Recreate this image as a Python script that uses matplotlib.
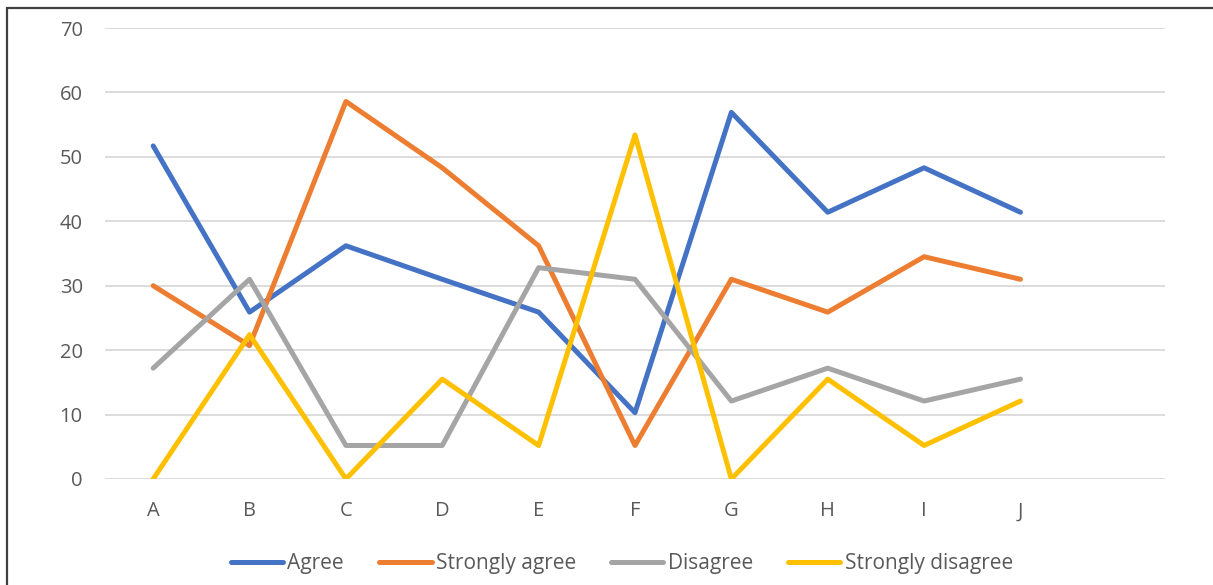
import matplotlib
matplotlib.use("Agg")
import matplotlib.pyplot as plt
from matplotlib.patches import Rectangle

categories = ["A", "B", "C", "D", "E", "F", "G", "H", "I", "J"]
agree = [51.7, 25.9, 36.2, 31.0, 25.9, 10.3, 56.9, 41.4, 48.3, 41.4]
strongly_agree = [30.0, 20.7, 58.6, 48.3, 36.2, 5.2, 31.0, 25.9, 34.5, 31.0]
disagree = [17.2, 31.0, 5.2, 5.2, 32.8, 31.0, 12.1, 17.2, 12.1, 15.5]
strongly_disagree = [0.0, 22.4, 0.0, 15.5, 5.2, 53.4, 0.0, 15.5, 5.2, 12.1]

series = [("Agree", agree, "#4472C4"),
          ("Strongly agree", strongly_agree, "#ED7D31"),
          ("Disagree", disagree, "#A5A5A5"),
          ("Strongly disagree", strongly_disagree, "#FFC000")]

plt.rcParams['font.family'] = ['Open Sans', 'DejaVu Sans']
W, H = 1213, 585
fig = plt.figure(figsize=(W/100, H/100), dpi=100)
ax = fig.add_axes([105/W, 106/H, 1060/W, 451/H])

x = list(range(len(categories)))
for name, vals, col in series:
    ax.plot(x, vals, color=col, lw=3.6, label=name, solid_capstyle='round', solid_joinstyle='round')

ax.set_xlim(-0.5, 10.5)
ax.set_ylim(0, 70)
ax.set_yticks(range(0, 71, 10))
ax.set_xticks(x)
ax.set_xticklabels(categories)
ax.grid(axis='y', color='#D9D9D9', lw=1.3)
ax.set_axisbelow(True)
for s in ax.spines.values():
    s.set_visible(False)
ax.tick_params(length=0, labelsize=14.5, colors='#595959')
ax.tick_params(axis='y', pad=16)
ax.tick_params(axis='x', pad=16)
for lbl in ax.get_yticklabels():
    lbl.set_horizontalalignment('right')

leg = fig.legend(loc='center', bbox_to_anchor=(622/W, 1 - 564/H), ncol=4, frameon=False,
                 fontsize=15, handlelength=2.5, handletextpad=0.2, columnspacing=1.7)
for t in leg.get_texts():
    t.set_color('#595959')

fig.patches.append(Rectangle((7/W, -0.1), 1.2, 1 - 8/H + 0.1, transform=fig.transFigure,
                             fill=False, edgecolor='#404040', lw=1.6))
fig.savefig("out.png", dpi=100)
